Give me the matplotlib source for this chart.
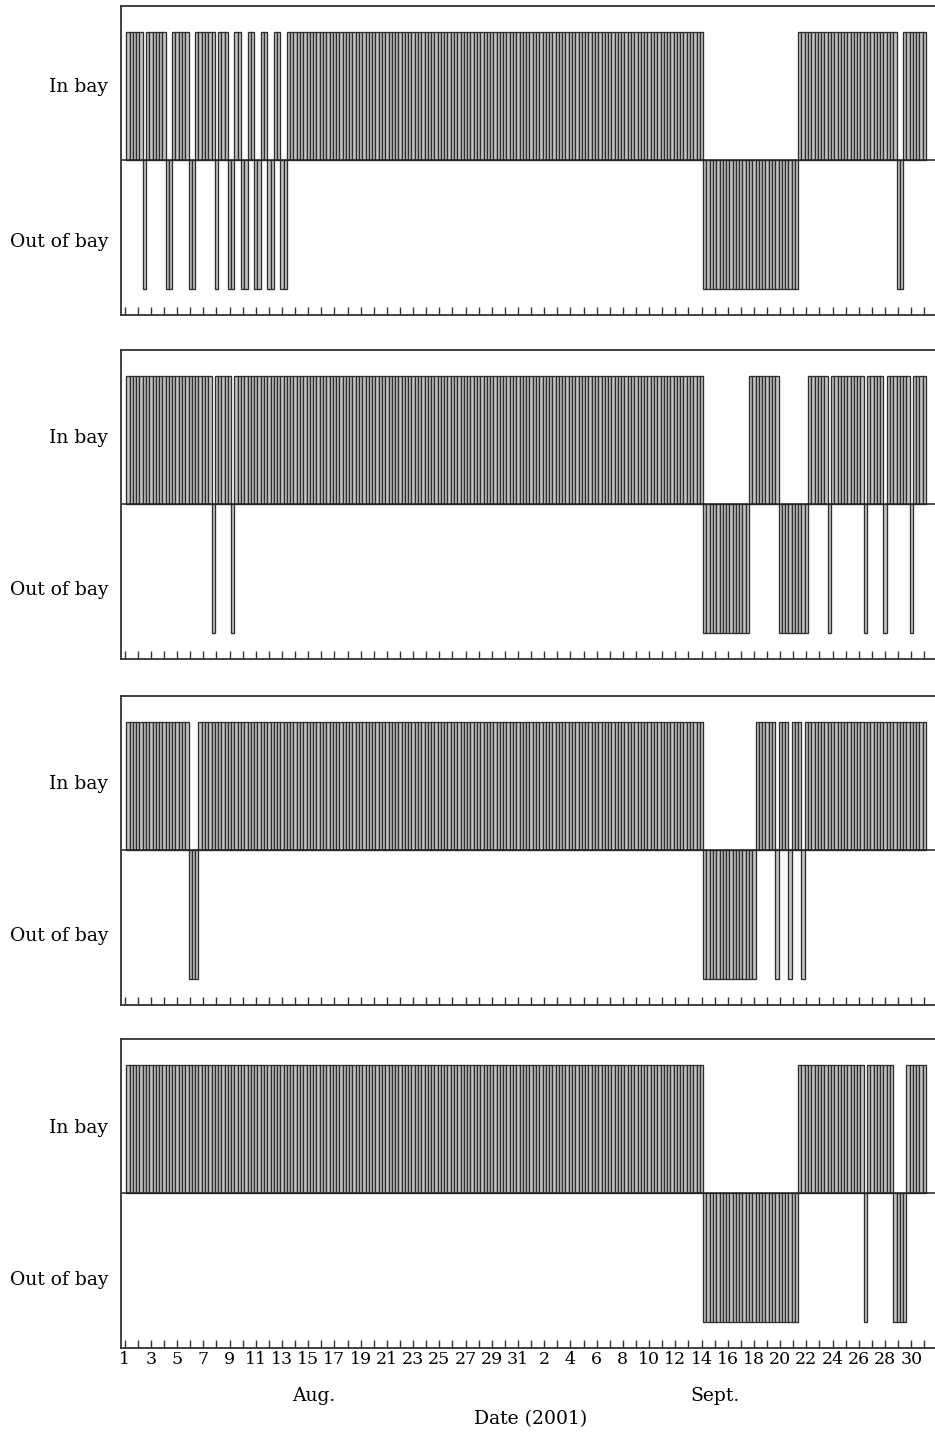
import numpy as np
import matplotlib.pyplot as plt

# 6-hourly position of four tagged animals, Aug 1 06:00 -> Oct 1 00:00 (2001)
# each run = (state, number of 6-h steps); 1 = in bay, 0 = out of bay
runs_a = [(1, 5), (0, 1), (1, 6), (0, 2), (1, 5), (0, 2), (1, 6), (0, 1), (1, 3),
          (0, 2), (1, 2), (0, 2), (1, 2), (0, 2), (1, 2), (0, 2), (1, 2), (0, 2),
          (1, 127), (0, 29), (1, 30), (0, 2), (1, 7)]
runs_b = [(1, 26), (0, 1), (1, 5), (0, 1), (1, 143), (0, 14), (1, 9), (0, 9),
          (1, 6), (0, 1), (1, 10), (0, 1), (1, 5), (0, 1), (1, 7), (0, 1), (1, 4)]
runs_c = [(1, 19), (0, 3), (1, 154), (0, 16), (1, 6), (0, 1), (1, 3), (0, 1),
          (1, 3), (0, 1), (1, 37)]
runs_d = [(1, 176), (0, 29), (1, 20), (0, 1), (1, 8), (0, 4), (1, 6)]

day_labels = ["1", "3", "5", "7", "9", "11", "13", "15", "17", "19", "21", "23",
              "25", "27", "29", "31", "2", "4", "6", "8", "10", "12", "14", "16",
              "18", "20", "22", "24", "26", "28", "30"]
months = ["Aug.", "Sept."]

STEP = 0.25          # days per observation
FILL = "#c4c4c4"
EDGE = "#2e2e2e"
FONT = "DejaVu Serif"

plt.rcParams["font.family"] = FONT

fig = plt.figure(figsize=(9.35, 14.33), dpi=100)
bottoms = [0.7802, 0.5403, 0.2987, 0.0595]
label_y = [(0.585, -0.62), (0.53, -0.65), (0.53, -0.65), (0.52, -0.66)]
all_runs = [runs_a, runs_b, runs_c, runs_d]

for i, (runs, b) in enumerate(zip(all_runs, bottoms)):
    ax = fig.add_axes([0.1294, b, 0.8706, 0.2156])
    state = np.concatenate([np.full(n, s) for s, n in runs])
    t = np.arange(1, len(state) + 1) * STEP
    h = np.where(state == 1, 1.0, -1.0)
    ax.bar(t, h, width=STEP, color=FILL, edgecolor=EDGE, linewidth=0.95)
    ax.axhline(0, color="#222222", linewidth=1.1)

    ax.set_xlim(-0.28, 61.81)
    ax.set_ylim(-1.2, 1.2)
    ax.spines["right"].set_visible(False)
    for s in ("left", "top", "bottom"):
        ax.spines[s].set_color("#333333")
        ax.spines[s].set_linewidth(1.3)

    ax.set_yticks(list(label_y[i]))
    ax.set_yticklabels(["In bay", "Out of bay"], fontsize=13.5)
    ax.tick_params(axis="y", length=0, pad=9)

    ax.set_xticks(np.arange(0, 62))
    ax.tick_params(axis="x", direction="in", length=6, width=1.0,
                   color="#333333", pad=2.5)
    if i < 3:
        ax.set_xticklabels([])
    else:
        labels = []
        for k in range(62):
            labels.append(day_labels[k // 2] if k % 2 == 0 and k // 2 < len(day_labels) else "")
        ax.set_xticklabels(labels, fontsize=12.5)
        tr = ax.get_xaxis_transform()
        ax.text(14.4, -0.155, months[0], transform=tr, ha="center", va="center", fontsize=13.5)
        ax.text(45.0, -0.155, months[1], transform=tr, ha="center", va="center", fontsize=13.5)
        ax.text(30.95, -0.23, "Date (2001)", transform=tr, ha="center", va="center", fontsize=13.5)

fig.savefig("out.png", dpi=100)
